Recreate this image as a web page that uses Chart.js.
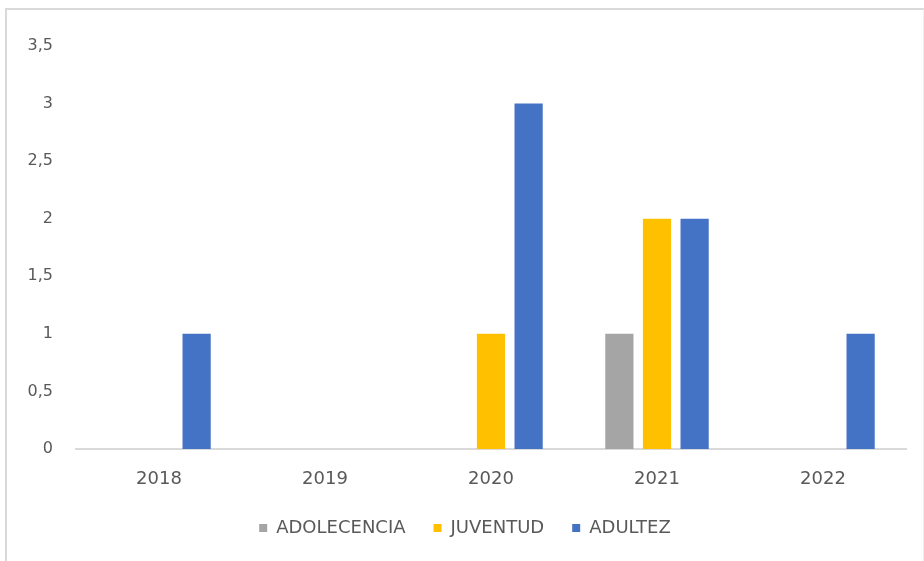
<!DOCTYPE html>
<html lang="es">
<head>
  <meta charset="UTF-8">
  <title>Grupos de edad por año</title>
  <script src="https://cdn.jsdelivr.net/npm/chart.js"></script>
  <style>
    html, body {
      margin: 0;
      padding: 0;
      background: #ffffff;
    }
    .wrap {
      position: relative;
      width: 924px;
      height: 561px;
    }
    .frame {
      position: absolute;
      left: 5px;
      top: 8px;
      width: 916px;
      height: 560px;
      border-top: 2px solid #d9d9d9;
      border-left: 2px solid #d9d9d9;
      border-right: 1px solid #efefef;
      pointer-events: none;
    }
  </style>
</head>
<body>
<div class="wrap">
  <canvas id="chart" width="924" height="561"></canvas>
  <div class="frame"></div>
</div>

<script>
  const years = ["2018", "2019", "2020", "2021", "2022"];
  const adolecencia = [0, 0, 0, 1, 0];
  const juventud = [0, 0, 1, 2, 0];
  const adultez = [1, 0, 3, 2, 1];
  const yTickLabels = ["0", "0,5", "1", "1,5", "2", "2,5", "3", "3,5"];

  const textColor = "#595959";
  const fontFamily = "'DejaVu Sans', sans-serif";

  new Chart(document.getElementById("chart"), {
    type: "bar",
    data: {
      labels: years,
      datasets: [
        { label: "ADOLECENCIA", data: adolecencia, backgroundColor: "#a5a5a5" },
        { label: "JUVENTUD", data: juventud, backgroundColor: "#ffc000" },
        { label: "ADULTEZ", data: adultez, backgroundColor: "#4472c4" }
      ]
    },
    options: {
      responsive: false,
      animation: false,
      categoryPercentage: 0.68,
      barPercentage: 0.75,
      layout: {
        padding: { top: 46, right: 18, bottom: 14, left: 24 }
      },
      plugins: {
        tooltip: { enabled: false },
        legend: {
          position: "bottom",
          labels: {
            color: textColor,
            font: { family: fontFamily, size: 18 },
            boxWidth: 8,
            boxHeight: 8,
            padding: 28
          }
        }
      },
      scales: {
        x: {
          grid: { display: false },
          border: { display: true, color: "#d9d9d9", width: 2 },
          afterFit: scale => { scale.height = 42; },
          ticks: {
            color: textColor,
            font: { family: fontFamily, size: 18 },
            padding: 12
          }
        },
        y: {
          min: 0,
          max: 3.5,
          grid: { display: false },
          border: { display: false },
          afterFit: scale => { scale.width = 52; },
          ticks: {
            stepSize: 0.5,
            color: textColor,
            font: { family: fontFamily, size: 16 },
            padding: 15,
            callback: (value, index) => yTickLabels[index]
          }
        }
      }
    }
  });
</script>
</body>
</html>
